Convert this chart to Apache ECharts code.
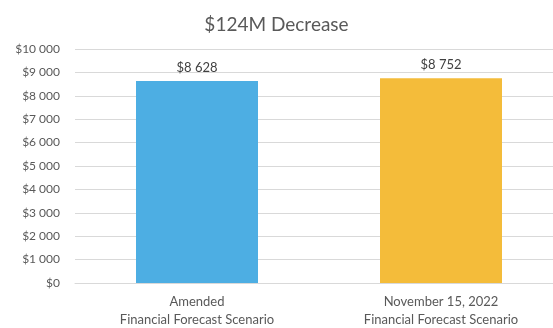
<!DOCTYPE html>
<html>
<head>
<meta charset="utf-8">
<script src="https://cdn.jsdelivr.net/npm/echarts@6/dist/echarts.min.js"></script>
<style>
  html, body { margin: 0; padding: 0; background: #fff; }
  #chart { width: 553px; height: 328px; }
</style>
</head>
<body>
<div id="chart"></div>
<script>
// Forecast scenarios (values in $ millions)
const categories = ['Amended\nFinancial Forecast Scenario', 'November 15, 2022\nFinancial Forecast Scenario'];
const values = [8628, 8752];
const barColors = ['#4DAEE3', '#F4BC3A'];
const titleText = '$124M Decrease';

const fmt = v => '$' + String(v).replace(/\B(?=(\d{3})+(?!\d))/g, ' ');
const FONT = 'Lato, "Open Sans", sans-serif';

const chart = echarts.init(document.getElementById('chart'));
chart.setOption({
  animation: false,
  title: {
    text: titleText,
    left: 'center',
    top: 10,
    textStyle: { fontFamily: FONT, fontWeight: 'normal', fontSize: 19, color: '#595959' }
  },
  grid: { left: 75, right: -10, top: 49, bottom: 45, outerBoundsMode: 'none', containLabel: false },
  xAxis: {
    type: 'category',
    data: categories,
    axisLine: { lineStyle: { color: '#d9d9d9' } },
    axisTick: { show: false },
    axisLabel: { fontFamily: FONT, fontSize: 13, color: '#595959', lineHeight: 18, margin: 10 }
  },
  yAxis: {
    type: 'value',
    min: 0,
    max: 10000,
    interval: 1000,
    axisLine: { show: false },
    axisTick: { show: false },
    splitLine: { lineStyle: { color: '#d9d9d9' } },
    axisLabel: { fontFamily: FONT, fontSize: 12, color: '#595959', margin: 15, formatter: fmt }
  },
  series: [{
    type: 'bar',
    barWidth: '50%',
    data: values.map((v, i) => ({ value: v, itemStyle: { color: barColors[i] } })),
    label: {
      show: true,
      position: 'top',
      distance: 7,
      fontFamily: FONT,
      fontSize: 13,
      color: '#404040',
      formatter: p => fmt(p.value)
    }
  }]
});
</script>
</body>
</html>
